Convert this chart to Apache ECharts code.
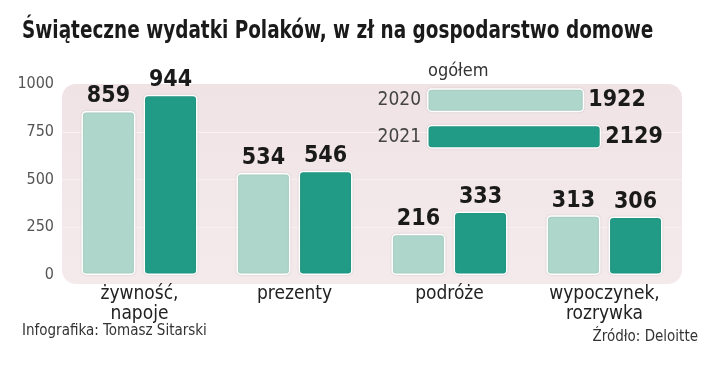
<!DOCTYPE html>
<html><head><meta charset="utf-8">
<script src="https://cdn.jsdelivr.net/npm/echarts@6/dist/echarts.min.js"></script>
<style>html,body{margin:0;padding:0;background:#fff}#c{width:720px;height:369px}</style>
</head><body><div id="c"></div>
<script>
const categories = ['żywność,\nnapoje', 'prezenty', 'podróże', 'wypoczynek,\nrozrywka'];
const values2020 = [859, 534, 216, 313];
const values2021 = [944, 546, 333, 306];
const yTicks = [0, 250, 500, 750, 1000];
const totalYears = ['2020', '2021'];
const totalValues = [1922, 2129];

const LIGHT = '#afd6ca', DARK = '#229b86';
const COND = '"Liberation Sans Narrow","DejaVu Sans Condensed","Roboto",sans-serif';
const chart = echarts.init(document.getElementById('c'), null, {renderer: 'canvas'});
const valLabel = {show: true, position: 'top', distance: 3, fontFamily: COND, fontWeight: 'bold', fontSize: 23, color: '#1a1a1a'};
const barStyle = c => ({color: c, borderColor: '#fff', borderWidth: 1.5, borderRadius: 4, shadowColor: 'rgba(0,0,0,0.12)', shadowBlur: 2});

chart.setOption({
  animation: false,
  graphic: [
    {type: 'rect', z: -10, shape: {x: 62, y: 84, width: 620, height: 200, r: 14},
     style: {fill: new echarts.graphic.LinearGradient(0, 0, 0, 1, [{offset: 0, color: '#f0e3e5'}, {offset: 1, color: '#f4eaec'}])}},
    {type: 'text', x: 22, y: 19, scaleX: 0.82, style: {text: 'Świąteczne wydatki Polaków, w zł na gospodarstwo domowe', font: 'bold 25px ' + COND, fill: '#1a1a1a'}},
    {type: 'text', left: 428, top: 62, style: {text: 'ogółem', font: '18px ' + COND, fill: '#333'}},
    {type: 'text', left: 22, top: 324, style: {text: 'Infografika: Tomasz Sitarski', font: '15px ' + COND, fill: '#333'}},
    {type: 'text', right: 22, top: 330, style: {text: 'Źródło: Deloitte', font: '15px ' + COND, fill: '#333', align: 'right'}}
  ],
  grid: [
    {left: 62, width: 620, top: 84, height: 191},
    {left: 427, width: 180, top: 82, height: 73}
  ],
  xAxis: [
    {gridIndex: 0, type: 'category', data: categories, axisLine: {show: false}, axisTick: {show: false},
     axisLabel: {margin: 9, fontFamily: COND, fontSize: 19, lineHeight: 20, color: '#222', verticalAlign: 'top'}},
    {gridIndex: 1, type: 'value', min: 0, max: 2200, show: false}
  ],
  yAxis: [
    {gridIndex: 0, type: 'value', min: 0, max: 1000, interval: 250,
     axisLine: {show: false}, axisTick: {show: false},
     axisLabel: {margin: 8, fontFamily: COND, fontSize: 16, color: '#555', formatter: v => String(v)},
     splitLine: {lineStyle: {color: ['transparent', '#f8f1f2', '#f8f1f2', '#f8f1f2', 'transparent'], width: 1.2}}},
    {gridIndex: 1, type: 'category', data: totalYears, inverse: true, axisLine: {show: false}, axisTick: {show: false},
     axisLabel: {margin: 6, fontFamily: COND, fontSize: 19, color: '#444'}}
  ],
  series: [
    {type: 'bar', xAxisIndex: 0, yAxisIndex: 0, data: values2020, barWidth: 54, barGap: '15%', itemStyle: barStyle(LIGHT), label: valLabel},
    {type: 'bar', xAxisIndex: 0, yAxisIndex: 0, data: values2021, barWidth: 54, barGap: '15%', itemStyle: barStyle(DARK), label: valLabel},
    {type: 'bar', xAxisIndex: 1, yAxisIndex: 1, barWidth: 24,
     data: totalValues.map((v, i) => ({value: v, itemStyle: barStyle(i === 0 ? LIGHT : DARK)})),
     label: {show: true, position: 'right', distance: 4, fontFamily: COND, fontWeight: 'bold', fontSize: 23, color: '#1a1a1a'}}
  ]
});
</script></body></html>
